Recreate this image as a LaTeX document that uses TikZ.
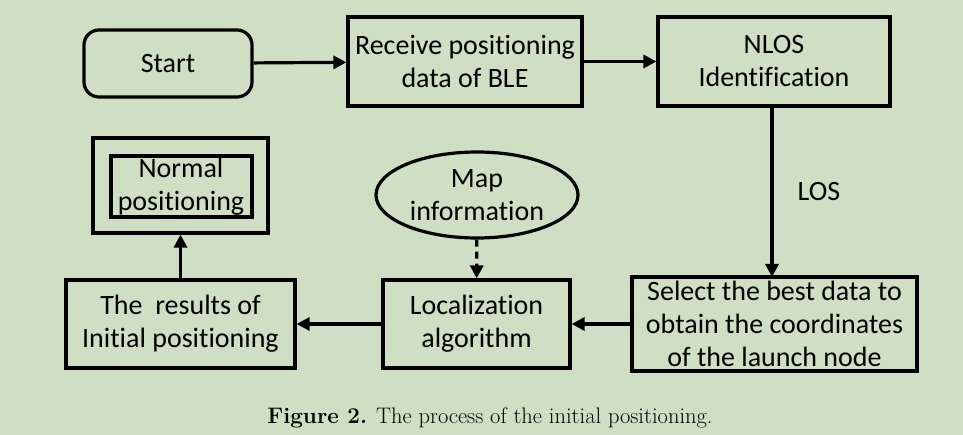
\documentclass[tikz,border=0pt]{standalone}
\usepackage{fontspec}
\setmainfont{Carlito}[Ligatures=NoCommon]
\newfontfamily\capfont{Latin Modern Roman}
\usetikzlibrary{arrows.meta,shapes.geometric}
\definecolor{bgc}{HTML}{CEDFC4}
\begin{document}
\begin{tikzpicture}[x=1pt,y=-1pt,
  every node/.style={font=\fontsize{28}{33}\selectfont, align=center, inner sep=0pt},
  box/.style={draw, line width=3.2pt, rectangle},
  conn/.style={line width=3.2pt, -{Triangle[length=13pt,width=13pt]}},
  lbl/.style={font=\fontsize{28}{33}\selectfont}]
\fill[bgc] (0,0) rectangle (963,435);
\useasboundingbox (0,0) rectangle (963,435);
\node[box, rounded corners=15pt, minimum width=168pt, minimum height=67pt] (start) at (168,63.5) {Start};
\node[box, minimum width=234pt, minimum height=89pt] (recv) at (465,61.5) {Receive positioning\\data of BLE};
\node[box, minimum width=232pt, minimum height=89pt] (nlos) at (774,61.5) {NLOS\\Identification};
\node[box, minimum width=285pt, minimum height=94pt] (sel) at (774.5,324) {Select the best data to\\obtain the coordinates\\of the launch node};
\node[box, minimum width=187pt, minimum height=88pt] (loc) at (476.5,324) {Localization\\algorithm};
\node[draw, ellipse, line width=3.2pt, minimum width=202pt, minimum height=86pt, inner sep=0pt] (map) at (477,195) {Map\\information};
\node[box, minimum width=229pt, minimum height=88pt] (res) at (180.5,324) {The\ \ results of\\Initial positioning};
\node[box, minimum width=175pt, minimum height=95pt] (norm) at (180.5,185.5) {};
\node[box, minimum width=141pt, minimum height=61pt] (normin) at (181.5,186.5) {};
\node (normtxt) at (181,187) {Normal\\positioning};
\coordinate (nlosb) at (772,106);
\coordinate (selt) at (772,277);
\draw[conn] (start) -- (recv);
\draw[conn] (recv) -- (nlos);
\draw[conn] (nlosb) -- node[right=24pt, lbl] (los) {LOS} (selt);
\draw[conn] (sel) -- (loc);
\draw[conn] (loc) -- (res);
\draw[conn, dash pattern=on 7pt off 5pt] (map) -- (loc);
\draw[conn] (res.north -| norm.south) -- (norm.south);
\node[font=\capfont\fontsize{22.5}{26}\selectfont] (cap) at (490,418) {\textbf{Figure 2.} The process of the initial positioning.};
\end{tikzpicture}
\end{document}
